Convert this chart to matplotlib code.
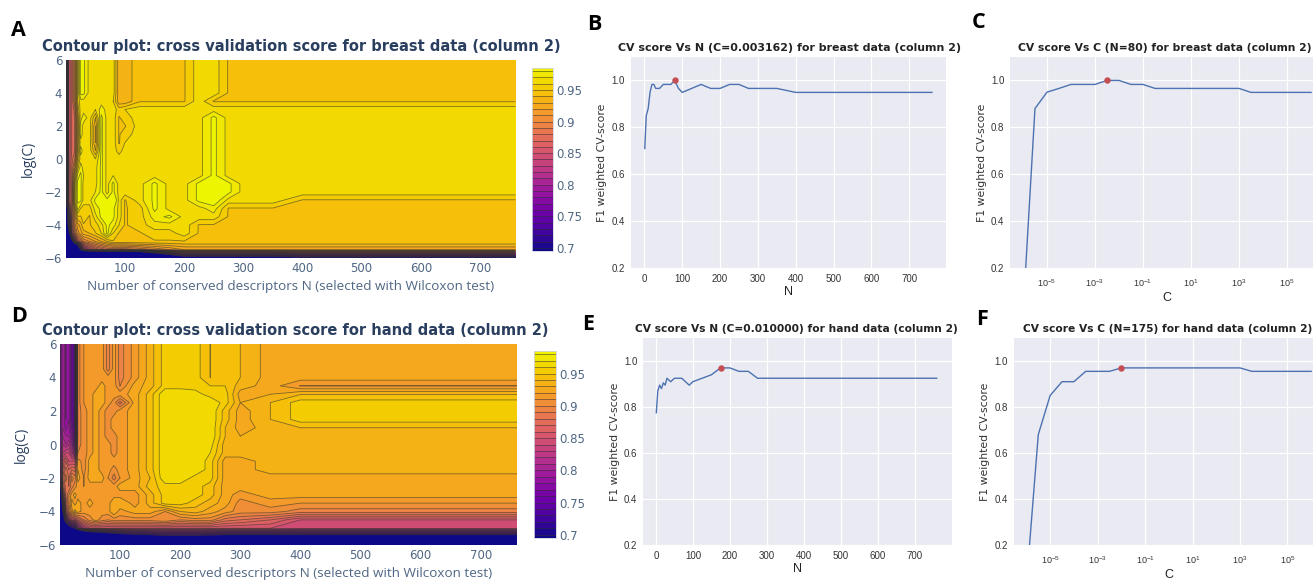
import numpy as np
import matplotlib
matplotlib.use("Agg")
import matplotlib.pyplot as plt
from matplotlib.colors import LinearSegmentedColormap, Normalize

W, H = 1313, 581

# descriptor counts and log(C) rows shared by both contour maps
n_grid = [1, 5, 10, 15, 20, 25, 30, 40, 50, 60, 70, 80, 90, 100, 125, 150, 175, 200, 225, 250, 275, 300, 350, 400, 760]
logc_grid = [6, 5.5, 5, 4.5, 4, 3.5, 3, 2.5, 2, 1.5, 1, 0.5, 0, -0.5, -1, -1.5, -2, -2.5, -3, -3.5, -4, -4.5, -5, -5.5, -6]

# scores x 1000, one row per log(C)
breast_z = [
    [710, 850, 870, 900, 950, 983, 983, 966, 966, 966, 966, 966, 932, 932, 949, 949, 949, 949, 966, 966, 949, 949, 949, 949, 949],
    [710, 850, 870, 900, 950, 983, 983, 966, 966, 966, 966, 966, 932, 932, 949, 949, 949, 949, 966, 966, 949, 949, 949, 949, 949],
    [710, 850, 870, 900, 950, 983, 983, 966, 966, 966, 966, 966, 932, 932, 949, 949, 949, 949, 966, 966, 949, 949, 949, 949, 949],
    [710, 850, 870, 900, 950, 983, 983, 966, 966, 966, 966, 966, 932, 932, 949, 949, 949, 949, 966, 966, 949, 949, 949, 949, 949],
    [710, 850, 870, 900, 950, 983, 983, 966, 966, 966, 966, 966, 932, 932, 949, 949, 949, 949, 966, 966, 949, 949, 949, 949, 949],
    [710, 850, 870, 900, 950, 966, 966, 966, 966, 966, 966, 960, 932, 932, 949, 949, 949, 949, 966, 949, 949, 949, 949, 949, 949],
    [710, 850, 870, 885, 940, 966, 966, 966, 960, 975, 966, 966, 955, 960, 966, 966, 966, 966, 966, 966, 966, 966, 966, 966, 966],
    [710, 850, 870, 880, 930, 966, 975, 966, 940, 983, 966, 966, 949, 955, 966, 966, 966, 966, 966, 983, 966, 966, 966, 966, 966],
    [710, 850, 870, 880, 930, 975, 966, 966, 930, 983, 966, 966, 949, 949, 966, 966, 966, 966, 966, 983, 966, 966, 966, 966, 966],
    [710, 850, 870, 880, 930, 975, 966, 966, 930, 983, 966, 966, 949, 955, 966, 966, 966, 966, 966, 983, 966, 966, 966, 966, 966],
    [710, 850, 870, 880, 930, 966, 966, 966, 930, 983, 966, 966, 949, 960, 966, 966, 966, 966, 966, 983, 966, 966, 966, 966, 966],
    [710, 850, 870, 880, 935, 975, 966, 966, 940, 983, 966, 966, 955, 966, 966, 966, 966, 966, 966, 983, 966, 966, 966, 966, 966],
    [710, 850, 875, 890, 940, 966, 966, 966, 960, 983, 966, 966, 966, 966, 966, 966, 966, 966, 966, 983, 966, 966, 966, 966, 966],
    [710, 850, 880, 910, 955, 975, 966, 966, 966, 983, 966, 966, 966, 966, 966, 966, 966, 966, 966, 983, 966, 966, 966, 966, 966],
    [710, 850, 880, 930, 975, 983, 970, 966, 966, 983, 966, 970, 966, 966, 966, 966, 966, 966, 966, 983, 966, 966, 966, 966, 966],
    [710, 850, 880, 945, 983, 983, 966, 966, 966, 983, 966, 983, 966, 966, 966, 983, 966, 966, 983, 990, 983, 966, 966, 966, 966],
    [710, 850, 880, 950, 983, 983, 966, 966, 970, 983, 966, 983, 966, 966, 966, 983, 966, 966, 983, 990, 983, 966, 966, 966, 966],
    [710, 850, 880, 950, 983, 983, 966, 966, 983, 983, 983, 1000, 966, 949, 966, 983, 966, 966, 983, 990, 966, 966, 966, 949, 949],
    [640, 820, 880, 930, 975, 960, 955, 955, 975, 983, 990, 983, 966, 949, 955, 983, 966, 966, 966, 975, 949, 949, 949, 949, 949],
    [620, 780, 870, 915, 949, 949, 955, 949, 966, 983, 990, 983, 966, 949, 955, 975, 983, 966, 966, 966, 949, 949, 949, 949, 949],
    [600, 750, 860, 905, 925, 935, 949, 949, 955, 966, 983, 975, 960, 949, 955, 966, 966, 966, 949, 949, 949, 949, 949, 949, 949],
    [550, 650, 840, 885, 915, 925, 935, 940, 949, 960, 983, 960, 949, 949, 949, 955, 955, 966, 949, 949, 949, 949, 949, 949, 949],
    [300, 500, 660, 800, 860, 880, 900, 910, 920, 930, 940, 949, 949, 949, 949, 949, 949, 949, 949, 949, 949, 949, 949, 949, 949],
    [100, 150, 200, 300, 500, 700, 800, 840, 860, 870, 880, 880, 880, 880, 890, 900, 910, 920, 920, 920, 920, 920, 920, 920, 920],
    [0, 0, 0, 0, 0, 0, 0, 0, 0, 0, 0, 0, 0, 0, 100, 400, 550, 650, 650, 650, 650, 650, 650, 680, 680],
]

hand_z = [
    [770, 800, 780, 790, 760, 740, 895, 910, 915, 915, 915, 895, 915, 895, 915, 935, 955, 955, 955, 940, 945, 940, 925, 925, 925],
    [770, 800, 780, 790, 760, 740, 895, 910, 915, 915, 915, 895, 915, 895, 915, 935, 955, 955, 955, 940, 945, 940, 925, 925, 925],
    [770, 800, 780, 790, 760, 740, 895, 910, 915, 915, 915, 895, 915, 895, 915, 935, 955, 955, 955, 940, 945, 940, 925, 925, 925],
    [770, 800, 780, 790, 760, 740, 895, 910, 915, 915, 915, 895, 915, 895, 915, 935, 955, 955, 955, 940, 945, 940, 925, 925, 925],
    [770, 800, 780, 790, 760, 740, 895, 910, 915, 915, 915, 915, 915, 895, 915, 935, 955, 955, 955, 940, 945, 940, 925, 925, 925],
    [770, 800, 780, 790, 760, 740, 895, 910, 915, 915, 925, 915, 915, 900, 925, 935, 955, 955, 955, 950, 950, 935, 925, 909.5, 909.5],
    [770, 800, 780, 790, 760, 740, 895, 910, 915, 925, 925, 915, 915, 915, 925, 945, 969.5, 969.5, 965, 955, 955, 925, 930, 939.5, 939.5],
    [770, 800, 780, 790, 760, 740, 895, 910, 915, 925, 925, 915, 905, 885, 925, 945, 969.5, 969.5, 969.5, 969.5, 955, 930, 940, 955, 955],
    [770, 800, 780, 790, 760, 740, 895, 905, 915, 925, 915, 905, 905, 915, 925, 945, 969.5, 969.5, 969.5, 969.5, 945, 925, 940, 955, 955],
    [770, 800, 780, 790, 760, 740, 895, 905, 915, 925, 915, 905, 915, 915, 925, 945, 969.5, 969.5, 969.5, 969.5, 945, 925, 940, 955, 955],
    [770, 800, 785, 795, 770, 740, 895, 905, 915, 925, 915, 905, 915, 915, 925, 945, 969.5, 969.5, 969.5, 969.5, 940, 925, 935, 940, 940],
    [770, 810, 800, 800, 780, 745, 895, 905, 915, 925, 915, 905, 905, 915, 925, 945, 969.5, 969.5, 969.5, 969.5, 940, 930, 935, 935, 935],
    [775, 820, 810, 820, 800, 760, 895, 905, 915, 925, 915, 915, 905, 915, 925, 945, 969.5, 969.5, 969.5, 965, 935, 935, 935, 935, 935],
    [775, 830, 840, 840, 820, 790, 900, 905, 915, 925, 915, 915, 905, 915, 925, 945, 969.5, 969.5, 969.5, 960, 935, 935, 935, 935, 935],
    [775, 850, 870, 850, 850, 850, 915, 905, 925, 925, 915, 915, 915, 915, 925, 945, 969.5, 969.5, 969.5, 955, 925, 925, 935, 935, 935],
    [775, 860, 885, 870, 880, 875, 920, 905, 925, 925, 915, 915, 905, 915, 925, 945, 969.5, 969.5, 969.5, 955, 925, 925, 935, 935, 935],
    [775, 870, 895, 880, 905, 895, 925, 910, 925, 925, 925, 910, 895, 910, 925, 940, 969.5, 969.5, 955, 955, 925, 925, 925, 925, 925],
    [690, 860, 885, 880, 895, 905, 915, 910, 915, 915, 915, 915, 915, 925, 925, 945, 955, 955, 955, 945, 925, 925, 925, 925, 925],
    [620, 820, 880, 900, 915, 925, 915, 915, 915, 915, 915, 915, 915, 915, 915, 935, 955, 955, 955, 945, 925, 915, 925, 925, 925],
    [550, 760, 870, 900, 925, 915, 925, 915, 925, 915, 915, 915, 930, 930, 915, 935, 955, 955, 945, 935, 925, 905, 915, 910, 910],
    [450, 700, 850, 890, 915, 935, 925, 915, 915, 915, 915, 915, 930, 915, 925, 925, 910, 930, 935, 925, 915, 905, 905, 895, 895],
    [300, 650, 750, 820, 850, 850, 870, 890, 905, 915, 905, 900, 905, 905, 905, 905, 910, 900, 905, 905, 885, 880, 870, 850, 850],
    [30, 300, 600, 650, 680, 700, 780, 830, 850, 850, 850, 850, 850, 850, 850, 850, 850, 850, 850, 850, 850, 850, 850, 845, 845],
    [10, 20, 30, 30, 30, 40, 300, 450, 500, 520, 550, 580, 600, 620, 650, 660, 680, 680, 680, 670, 660, 660, 660, 660, 660],
    [30, 30, 30, 30, 30, 30, 30, 30, 30, 30, 30, 30, 30, 30, 30, 30, 30, 30, 30, 30, 30, 30, 30, 30, 30],
]

# line panels
breast_n = [1, 5, 10, 15, 20, 25, 30, 40, 50, 60, 70, 80, 90, 100, 150, 175, 200, 225, 250, 275, 300, 350, 400, 500, 600, 760]
breast_n_score = [0.71, 0.85, 0.88, 0.95, 0.983, 0.983, 0.966, 0.966, 0.983, 0.983, 0.983, 1.0, 0.966, 0.949, 0.983, 0.966, 0.966, 0.983, 0.983, 0.966, 0.966, 0.966, 0.949, 0.949, 0.949, 0.949]
breast_best_n = (80, 1.0)

hand_n = [1, 5, 10, 15, 20, 25, 30, 40, 50, 60, 70, 90, 100, 125, 150, 175, 200, 225, 250, 275, 300, 400, 500, 600, 760]
hand_n_score = [0.775, 0.87, 0.895, 0.88, 0.905, 0.895, 0.925, 0.91, 0.925, 0.925, 0.925, 0.895, 0.91, 0.925, 0.94, 0.97, 0.97, 0.955, 0.955, 0.925, 0.925, 0.925, 0.925, 0.925, 0.925]
hand_best_n = (175, 0.97)

c_log = [-6, -5.5, -5, -4.5, -4, -3.5, -3, -2.5, -2, -1.5, -1, -0.5, 0, 1, 2, 3, 3.5, 4, 5, 6]
breast_c_score = [0.0, 0.88, 0.95, 0.966, 0.983, 0.983, 0.983, 1.0, 1.0, 0.983, 0.983, 0.966, 0.966, 0.966, 0.966, 0.966, 0.949, 0.949, 0.949, 0.949]
breast_best_c = (-2.5, 1.0)
hand_c_score = [0.03, 0.68, 0.85, 0.91, 0.91, 0.955, 0.955, 0.955, 0.97, 0.97, 0.97, 0.97, 0.97, 0.97, 0.97, 0.97, 0.955, 0.955, 0.955, 0.955]
hand_best_c = (-2, 0.97)

plasma = LinearSegmentedColormap.from_list("plasma_dim", ["#0d0887", "#46039f", "#7201a8", "#9c179e", "#bd3786",
                                                          "#d8576b", "#ea7a4c", "#f5a024", "#f5c802", "#eef500"])
levels = np.arange(0.70, 0.985, 0.01)
norm = Normalize(0.695, 0.985)
narrow = ["Liberation Sans Narrow", "Liberation Sans"]


def axes_px(fig, x0, y0, x1, y1):
    return fig.add_axes([x0 / W, 1 - y1 / H, (x1 - x0) / W, (y1 - y0) / H])


def contour_panel(fig, box, cbox, z, title, title_xy, xlabel_y, ylabel_x):
    ax = axes_px(fig, *box)
    zz = np.array(z, dtype=float)[::-1] / 1000
    yy = logc_grid[::-1]
    ax.contourf(n_grid, yy, zz, levels=levels, cmap=plasma, norm=norm, extend="both")
    ax.contour(n_grid, yy, zz, levels=levels, colors="#303030", linewidths=0.6, alpha=0.6)
    ax.set_xlim(1, 760)
    ax.set_ylim(-6, 6)
    ax.set_xticks(range(100, 701, 100))
    ax.set_yticks(range(-6, 7, 2))
    ax.tick_params(length=0, labelsize=8.5, labelcolor="#506784", pad=3)
    for s in ax.spines.values():
        s.set_visible(False)
    fig.text(title_xy[0] / W, 1 - title_xy[1] / H, title, fontsize=10.5, fontweight="bold", color="#2a3f5f",
             family="DejaVu Sans", va="center")
    fig.text((box[0] + box[2]) / 2 / W - 0.0, 1 - xlabel_y / H, "Number of conserved descriptors N (selected with Wilcoxon test)",
             fontsize=9.7, color="#506784", family="Open Sans", ha="center", va="center")
    fig.text(ylabel_x / W, 1 - (box[1] + box[3]) / 2 / H, "log(C)", fontsize=10, color="#2a3f5f", family="Open Sans",
             rotation=90, ha="center", va="center")

    cax = axes_px(fig, *cbox)
    bounds = np.r_[0.695, levels, 0.985]
    mids = (bounds[:-1] + bounds[1:]) / 2
    cax.pcolormesh([0, 1], bounds, mids[:, None], cmap=plasma, norm=norm)
    cax.hlines(levels, 0, 1, colors="#303030", linewidth=0.6, alpha=0.6)
    cax.set_xticks([])
    cax.yaxis.tick_right()
    cax.set_yticks([0.7, 0.75, 0.8, 0.85, 0.9, 0.95])
    cax.set_yticklabels(["0.7", "0.75", "0.8", "0.85", "0.9", "0.95"])
    cax.tick_params(length=0, labelsize=8.5, labelcolor="#506784", pad=2)
    for s in cax.spines.values():
        s.set_edgecolor("#d0d4e0")
        s.set_linewidth(0.6)


def line_panel(fig, box, x, y, best, title, xlabel, xlim, title_x, title_size, logx=False):
    ax = axes_px(fig, *box)
    ax.set_facecolor("#EAEAF2")
    ax.grid(True, color="white", linewidth=0.9)
    ax.set_axisbelow(True)
    if logx:
        ax.plot(np.power(10.0, x), y, color="#4C72B0", lw=1.0)
        ax.plot(10.0 ** best[0], best[1], "o", color="#C44E52", ms=3.6)
        ax.set_xscale("log")
        ax.set_xlim(10.0 ** xlim[0], 10.0 ** xlim[1])
        ax.set_xticks([1e-5, 1e-3, 1e-1, 1e1, 1e3, 1e5])
        ax.minorticks_off()
    else:
        ax.plot(x, y, color="#4C72B0", lw=1.0)
        ax.plot(best[0], best[1], "o", color="#C44E52", ms=3.6)
        ax.set_xlim(*xlim)
        ax.set_xticks(range(0, 701, 100))
    ax.set_ylim(0.2, 1.1)
    ax.set_yticks([0.2, 0.4, 0.6, 0.8, 1.0])
    ax.tick_params(length=0, labelsize=7, labelcolor="#333333", pad=4)
    if logx:
        ax.tick_params(axis="x", pad=7, labelsize=6.5)
    for lab in ax.get_xticklabels() + ax.get_yticklabels():
        lab.set_family(narrow)
    for s in ax.spines.values():
        s.set_visible(False)
    ax.set_xlabel(xlabel, fontsize=9, color="#222222", family=narrow, labelpad=2)
    ax.set_ylabel("F1 weighted CV-score", fontsize=7.8, color="#333333", labelpad=3)
    fig.text(title_x / W, 1 - (box[1] - 9) / H, title, fontsize=title_size, fontweight="bold", color="#222222", va="center")


fig = plt.figure(figsize=(W / 100, H / 100), dpi=100)

contour_panel(fig, (66.4, 60, 515.5, 258), (532, 68, 553, 251), breast_z,
              "Contour plot: cross validation score for breast data (column 2)", (42, 47), 287, 28)
contour_panel(fig, (60.4, 344, 517, 545), (534, 351, 556, 538), hand_z,
              "Contour plot: cross validation score for hand data (column 2)", (42, 330), 574, 21)

line_panel(fig, (630.5, 57, 946, 268), breast_n, breast_n_score, breast_best_n,
           "CV score Vs N (C=0.003162) for breast data (column 2)", "N", (-36.7, 797), 618, 7.9)
line_panel(fig, (1010, 57, 1324, 268), c_log, breast_c_score, breast_best_c,
           "CV score Vs C (N=80) for breast data (column 2)", "C", (-6.54, 6.54), 1018, 7.75, logx=True)
line_panel(fig, (643, 338, 951.5, 545), hand_n, hand_n_score, hand_best_n,
           "CV score Vs N (C=0.010000) for hand data (column 2)", "N", (-35, 800), 635, 7.7)
line_panel(fig, (1013.6, 338, 1324, 545), c_log, hand_c_score, hand_best_c,
           "CV score Vs C (N=175) for hand data (column 2)", "C", (-6.54, 6.54), 1023, 7.7, logx=True)

for letter, x, y in [("A", 11, 30), ("B", 587, 24), ("C", 972, 23), ("D", 11, 316), ("E", 582, 324), ("F", 976, 320)]:
    fig.text(x / W, 1 - y / H, letter, fontsize=15.5, fontweight="bold", color="black", family="Open Sans", va="center")

fig.savefig("out.png", dpi=100)
